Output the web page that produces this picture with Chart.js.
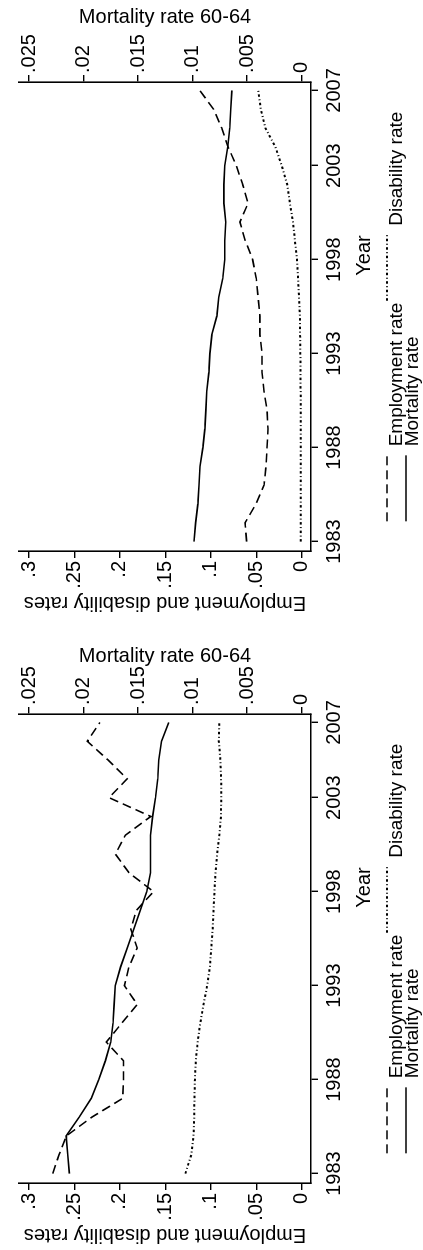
<!DOCTYPE html>
<html>
<head>
<meta charset="utf-8">
<title>Employment, disability and mortality rates 60-64</title>
<script src="https://cdn.jsdelivr.net/npm/chart.js@4.4.1/dist/chart.umd.min.js"></script>
<style>
  html, body { margin: 0; padding: 0; background: #fff; overflow: hidden; }
  /* the figure is laid out landscape and turned a quarter turn counter-clockwise */
  #fig { position: absolute; left: 0; top: 0; width: 1250px; height: 423px; transform-origin: 0 0; transform: translate(0, 1250px) rotate(-90deg); }
  #fig canvas { position: absolute; top: 0; }
</style>
</head>
<body>
<div id="fig">
  <canvas id="panelA" width="632" height="423" style="left:0"></canvas>
  <canvas id="panelB" width="618" height="423" style="left:632px"></canvas>
</div>
<script>
const years = [1983, 1984, 1985, 1986, 1987, 1988, 1989, 1990, 1991, 1992, 1993, 1994, 1995,
               1996, 1997, 1998, 1999, 2000, 2001, 2002, 2003, 2004, 2005, 2006, 2007];
const yearTicks = [1983, 1988, 1993, 1998, 2003, 2007];
const rateTicks = [0, 0.05, 0.1, 0.15, 0.2, 0.25, 0.3];
const rateTickLabels = ['0', '.05', '.1', '.15', '.2', '.25', '.3'];
const mortTicks = [0, 0.005, 0.01, 0.015, 0.02, 0.025];
const mortTickLabels = ['0', '.005', '.01', '.015', '.02', '.025'];

// left panel
const employmentA = [.274, .267, .259, .231, .197, .196, .196, .215, .198, .181, .195, .190, .181,
                     .188, .182, .163, .190, .205, .194, .166, .212, .192, .213, .236, .222];
const disabilityA = [.128, .1215, .119, .1183, .118, .1175, .1165, .1145, .1116, .108, .104, .101, .0995,
                     .098, .097, .096, .0948, .093, .0907, .0889, .0885, .0887, .0895, .0912, .0907];
const mortalityA = [.0213, .02145, .0216, .0204, .0193, .0186, .0180, .0175, .0173, .0172, .0171, .0166, .0160,
                    .0154, .0148, .0142, .01386, .01386, .01386, .01367, .0134, .0132, .0131, .01285, .0122];

// right panel
const employmentB = [.0606, .0624, .0503, .0415, .0393, .0382, .0371, .0382, .0415, .0437, .0437, .046, .046,
                     .048, .050, .054, .062, .068, .059, .065, .072, .081, .088, .097, .112];
const disabilityB = [.001, .001, .001, .001, .001, .001, .001, .001, .0012, .0013, .0015, .0018, .002,
                     .003, .004, .0052, .0074, .0096, .013, .016, .022, .029, .040, .045, .0478];
const mortalityB = [.00988, .00973, .00952, .00942, .00933, .00906, .00888, .00879, .0087, .00851, .00842, .00824, .00778,
                    .0076, .00724, .00705, .00705, .00696, .00714, .00714, .00705, .00678, .0066, .0065, .0064];

const FONT = "'Liberation Sans', Arial, Helvetica, sans-serif";
Chart.defaults.font.family = FONT;
Chart.defaults.font.size = 20;
Chart.defaults.color = '#000';

// Year title and the two-column Stata style legend under the x axis
const stataKeys = {
    id: 'stataKeys',
    afterDraw(chart) {
        const { ctx, chartArea: a } = chart;
        const mid = (a.left + a.right) / 2;
        const ds = chart.data.datasets;
        ctx.save();
        ctx.fillStyle = '#000';
        ctx.strokeStyle = '#000';
        ctx.textBaseline = 'alphabetic';
        ctx.font = '20px ' + FONT;
        ctx.textAlign = 'center';
        ctx.fillText('Year', mid + 61, a.bottom + 59);

        ctx.font = '19px ' + FONT;
        ctx.textAlign = 'left';
        const keyW = 66, keyGap = 9, colGap = 2;
        const col1 = keyW + keyGap + Math.max(ctx.measureText(ds[0].label).width, ctx.measureText(ds[2].label).width);
        const col2 = keyW + keyGap + ctx.measureText(ds[1].label).width;
        const x0 = mid - (col1 + colGap + col2) / 2;
        const items = [
            { d: ds[0], x: x0, key: a.bottom + 76, base: a.bottom + 91 },
            { d: ds[1], x: x0 + col1 + colGap, key: a.bottom + 76, base: a.bottom + 91 },
            { d: ds[2], x: x0, key: a.bottom + 95, base: a.bottom + 107 }
        ];
        items.forEach(it => {
            ctx.beginPath();
            ctx.setLineDash(it.d.borderDash || []);
            ctx.lineWidth = it.d.borderWidth;
            ctx.moveTo(it.x, it.key);
            ctx.lineTo(it.x + keyW, it.key);
            ctx.stroke();
            ctx.setLineDash([]);
            ctx.fillText(it.d.label, it.x + keyW + keyGap, it.base);
        });
        ctx.restore();
    }
};

const axisLine = { display: true, color: '#000', width: 1.6 };
const tickMarks = { drawOnChartArea: false, drawTicks: true, tickLength: 7, color: '#000', lineWidth: 1.4 };

function drawPanel(id, employment, disability, mortality, mortTitlePad) {
    const points = vals => years.map((yr, i) => ({ x: yr, y: vals[i] }));
    new Chart(document.getElementById(id), {
        type: 'line',
        data: {
            datasets: [
                { label: 'Employment rate', data: points(employment), yAxisID: 'y',
                  borderColor: '#000', borderWidth: 1.6, borderDash: [9, 5] },
                { label: 'Disability rate', data: points(disability), yAxisID: 'y',
                  borderColor: '#000', borderWidth: 2, borderDash: [2.5, 2.5, 1, 2.5] },
                { label: 'Mortality rate', data: points(mortality), yAxisID: 'y2',
                  borderColor: '#000', borderWidth: 1.6 }
            ]
        },
        options: {
            responsive: false,
            animation: false,
            layout: { padding: { top: 19, left: 0, right: 0, bottom: 0 } },
            elements: { point: { radius: 0 }, line: { tension: 0 } },
            plugins: { legend: { display: false }, tooltip: { enabled: false } },
            scales: {
                x: {
                    type: 'linear',
                    min: 1982.5,
                    max: 2007.45,
                    afterBuildTicks: axis => { axis.ticks = yearTicks.map(v => ({ value: v })); },
                    afterFit: axis => { axis.height = 112; },
                    ticks: { autoSkip: false, maxRotation: 0, padding: 4, callback: v => String(v) },
                    grid: tickMarks,
                    border: axisLine
                },
                y: {
                    position: 'left',
                    min: -0.0102,
                    max: 0.311,
                    afterBuildTicks: axis => { axis.ticks = rateTicks.map(v => ({ value: v })); },
                    afterFit: axis => { axis.width = 67; },
                    ticks: { autoSkip: false, padding: 3, callback: (v, i) => rateTickLabels[i] },
                    grid: tickMarks,
                    border: axisLine,
                    title: { display: true, text: 'Employment and disability rates', padding: { top: 3, bottom: 0 } }
                },
                y2: {
                    position: 'right',
                    min: -0.0102 / 12,
                    max: 0.311 / 12,
                    afterBuildTicks: axis => { axis.ticks = mortTicks.map(v => ({ value: v })); },
                    afterFit: axis => { axis.width = axis.chart.width - 536; },
                    ticks: { autoSkip: false, padding: 2, callback: (v, i) => mortTickLabels[i] },
                    grid: tickMarks,
                    border: axisLine,
                    title: { display: true, text: 'Mortality rate 60-64', padding: { top: mortTitlePad, bottom: 0 } }
                }
            }
        },
        plugins: [stataKeys]
    });
}

drawPanel('panelA', employmentA, disabilityA, mortalityA, 26);
drawPanel('panelB', employmentB, disabilityB, mortalityB, 5);
</script>
</body>
</html>
